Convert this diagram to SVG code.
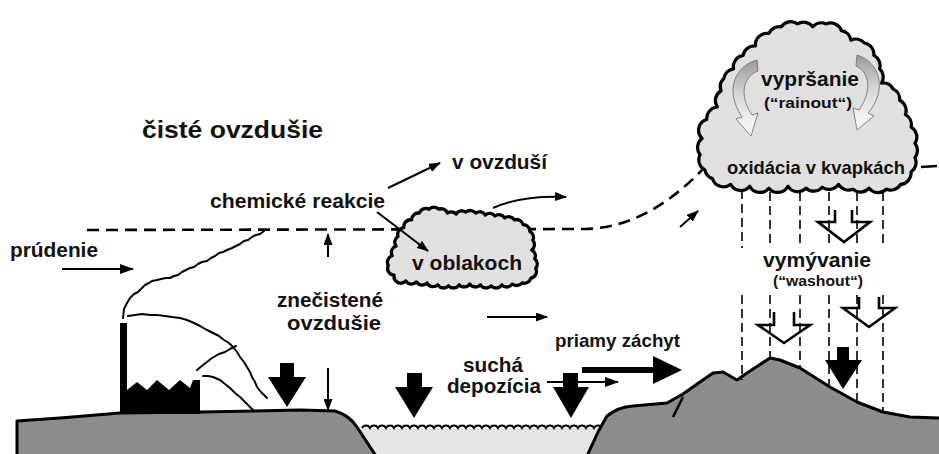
<svg xmlns="http://www.w3.org/2000/svg" width="939" height="454" viewBox="0 0 939 454">
  <style>
    .lbl { font-family: "Liberation Sans", Arial, sans-serif; font-weight: bold; fill: #111; }
    .ground { fill: #8c8c8c; stroke: #000; stroke-width: 3; stroke-linejoin: round; }
    .cloud { fill: #e0e0e0; stroke: #000; stroke-width: 3.4; stroke-linejoin: round; }
    .thin { fill: none; stroke: #000; stroke-width: 2; }
    .smoke { fill: none; stroke: #000; stroke-width: 2; stroke-linejoin: round; stroke-linecap: round; }
    .rain { fill: none; stroke: #000; stroke-width: 1.6; stroke-dasharray: 9 5; }
    .solid { fill: #000; }
    .hollow { fill: none; stroke: #000; stroke-width: 2.6; stroke-linejoin: miter; }
    .swirl { fill: url(#swirlGrad); stroke: #777; stroke-width: 0.9; }
  </style>
  <defs>
    <marker id="ah" viewBox="0 0 14 10" refX="13" refY="5" markerWidth="14" markerHeight="10" markerUnits="userSpaceOnUse" orient="auto">
      <path d="M0,0 L14,5 L0,10 z" fill="#000"/>
    </marker>
    <marker id="ahs" viewBox="0 0 12 9" refX="11" refY="4.5" markerWidth="12" markerHeight="9" markerUnits="userSpaceOnUse" orient="auto">
      <path d="M0,0 L12,4.5 L0,9 z" fill="#000"/>
    </marker>
    <linearGradient id="swirlGrad" x1="0" y1="0" x2="0" y2="1">
      <stop offset="0" stop-color="#9a9a9a"/>
      <stop offset="0.45" stop-color="#d6d6d6"/>
      <stop offset="1" stop-color="#ffffff"/>
    </linearGradient>
  </defs>

  <rect width="939" height="454" fill="#fff"/>

  <!-- water surface between the two shores -->
  <g id="water">
    <rect x="355" y="428" width="255" height="26" fill="#e6e6e6"/>
    <path d="M362,428 a4.5,4.5 0 0 1 8,0 a4.5,4.5 0 0 1 8,0 a4.5,4.5 0 0 1 8,0 a4.5,4.5 0 0 1 8,0 a4.5,4.5 0 0 1 8,0 a4.5,4.5 0 0 1 8,0 a4.5,4.5 0 0 1 8,0 a4.5,4.5 0 0 1 8,0 a4.5,4.5 0 0 1 8,0 a4.5,4.5 0 0 1 8,0 a4.5,4.5 0 0 1 8,0 a4.5,4.5 0 0 1 8,0 a4.5,4.5 0 0 1 8,0 a4.5,4.5 0 0 1 8,0 a4.5,4.5 0 0 1 8,0 a4.5,4.5 0 0 1 8,0 a4.5,4.5 0 0 1 8,0 a4.5,4.5 0 0 1 8,0 a4.5,4.5 0 0 1 8,0 a4.5,4.5 0 0 1 8,0 a4.5,4.5 0 0 1 8,0 a4.5,4.5 0 0 1 8,0 a4.5,4.5 0 0 1 8,0 a4.5,4.5 0 0 1 8,0 a4.5,4.5 0 0 1 8,0 a4.5,4.5 0 0 1 8,0 a4.5,4.5 0 0 1 8,0 a4.5,4.5 0 0 1 8,0 a4.5,4.5 0 0 1 8,0 a4.5,4.5 0 0 1 8,0" fill="none" stroke="#000" stroke-width="2"/>
  </g>

  <!-- left shore with the factory -->
  <g id="ground-left">
    <path class="ground" d="M17,421 L60,418 L120,413 L200,412 L300,410 L335,411 Q349,415 357,427 L376,456 L17,456 Z"/>
  </g>

  <!-- right shore and hill -->
  <g id="ground-right">
    <path class="ground" d="M587,456 L598,432 L607,416 Q618,407 633,406 L667,403 L683,394 L700,382 L713,373 L723,372 L737,380 L747,373 L770,358 L780,360 L800,368 L830,387 L857,402 L883,412 L910,417 L941,418 L941,456 Z"/>
    <path d="M673,417 L683,397" fill="none" stroke="#000" stroke-width="2.5"/>
  </g>

  <!-- factory: chimney, sawtooth hall and smoke plumes -->
  <g id="factory">
    <rect x="120" y="323" width="7" height="91" fill="#000"/>
    <path d="M127,414 L127,390 L137,382 L147,390 L157,380 L169,390 L180,380 L190,388 L193,380 L200,380 L200,414 Z" fill="#000"/>
    <path class="smoke" d="M123,318 L124,309 L127,303 L130,298 L134,294 L138,292 L141,289 L145,285 L149,283 L152,281 L157,280 L161,279 L166,278 L170,278 L174,276 L178,275 L182,272 L186,270 L190,268 L194,267 L198,264 L202,262 L207,261 L211,258 L215,256 L219,253 L223,252 L227,250 L232,248 L236,246 L240,244 L244,241 L248,240 L252,237 L256,235 L260,234 L264,231"/>
    <path class="smoke" d="M128,316 L135,315 L142,314 L150,315 L157,315 L165,316 L172,317 L180,318 L187,320 L194,323 L200,326 L207,330 L213,333 L219,336 L224,340 L229,343 L233,347 L237,352 L240,357 L244,362 L247,367 L250,372 L252,377 L255,382 L257,387 L261,392 L267,398"/>
    <path class="smoke" d="M236,346 L230,349 L225,352 L219,354 L212,358 L207,362 L203,365 L197,370"/>
    <path class="smoke" d="M203,376 L208,376 L213,377 L220,380 L225,384 L230,388 L235,393 L240,397 L244,401 L248,405 L253,410"/>
  </g>

  <!-- boundary between clean and polluted air -->
  <g id="mixing-layer">
    <path d="M87,230 L585,229 C630,228 668,205 702,170" fill="none" stroke="#000" stroke-width="2.6" stroke-dasharray="12 7"/>
    <path d="M921,167 L937,166" fill="none" stroke="#000" stroke-width="2.4"/>
  </g>

  <!-- rain streaks below the large cloud -->
  <g id="rain">
    <path class="rain" d="M742,190 V248 M770,192 V248 M800,192 V248 M829,192 V248 M857,192 V248 M883,192 V248"/>
    <path class="rain" d="M742,295 V380 M770,295 V358 M800,295 V368 M829,295 V387 M857,295 V402 M883,295 V412"/>
  </g>

  <!-- small cloud -->
  <g id="cloud-small">
    <path class="cloud" transform="translate(462 248) scale(0.97) translate(-462 -248)" d="M392,276 A7,7 0 0 1 386,266 A7,7 0 0 1 390,256 A7,7 0 0 1 394,246 A7,7 0 0 1 396,236 A7,7 0 0 1 402,227 A7,7 0 0 1 410,219 A7,7 0 0 1 418,212 A7,7 0 0 1 428,208 A7,7 0 0 1 438,208 A7,7 0 0 1 447,212 A7,7 0 0 1 456,213 A7,7 0 0 1 466,211 A7,7 0 0 1 476,212 A7,7 0 0 1 486,214 A7,7 0 0 1 496,215 A7,7 0 0 1 506,217 A7,7 0 0 1 516,219 A7,7 0 0 1 525,224 A7,7 0 0 1 532,231 A7,7 0 0 1 535,240 A7,7 0 0 1 534,250 A7,7 0 0 1 537,259 A7,7 0 0 1 538,269 A7,7 0 0 1 533,279 A7,7 0 0 1 524,284 A7,7 0 0 1 514,285 A7,7 0 0 1 503,286 A7,7 0 0 1 492,287 A7,7 0 0 1 481,286 A7,7 0 0 1 470,285 A7,7 0 0 1 459,286 A7,7 0 0 1 448,287 A7,7 0 0 1 437,286 A7,7 0 0 1 426,284 A7,7 0 0 1 415,283 A7,7 0 0 1 404,282 A7,7 0 0 1 392,276 Z"/>
    <text class="lbl" x="412" y="270" font-size="21" textLength="110" lengthAdjust="spacingAndGlyphs">v oblakoch</text>
  </g>

  <!-- large rain cloud -->
  <g id="cloud-large">
    <path class="cloud" transform="translate(808 107) scale(0.955) translate(-808 -107)" d="M700,173 A12,12 0 0 1 695,157 A12,12 0 0 1 697,140 A12,12 0 0 1 702,120 A12,12 0 0 1 713,107 A12,12 0 0 1 717,90 A12,12 0 0 1 720,77 A12,12 0 0 1 730,67 A12,12 0 0 1 740,53 A12,12 0 0 1 753,43 A12,12 0 0 1 767,30 A12,12 0 0 1 780,23 A12,12 0 0 1 797,20 A12,12 0 0 1 813,23 A12,12 0 0 1 827,20 A12,12 0 0 1 843,27 A12,12 0 0 1 853,37 A12,12 0 0 1 867,40 A12,12 0 0 1 877,53 A12,12 0 0 1 883,67 A12,12 0 0 1 885,82 A12,12 0 0 1 897,88 A12,12 0 0 1 904,100 A12,12 0 0 1 910,115 A12,12 0 0 1 916,128 A12,12 0 0 1 920,145 A12,12 0 0 1 920,160 A12,12 0 0 1 916,175 A12,12 0 0 1 905,188 A12,12 0 0 1 890,193 A12,12 0 0 1 872,192 A12,12 0 0 1 855,193 A12,12 0 0 1 840,188 A12,12 0 0 1 823,191 A12,12 0 0 1 806,192 A12,12 0 0 1 787,190 A12,12 0 0 1 767,192 A12,12 0 0 1 747,190 A12,12 0 0 1 727,188 A12,12 0 0 1 708,182 A12,12 0 0 1 700,173 Z"/>
    <path class="swirl" d="M757,60 C735,66 724,90 742,117 L736,119 L751,136 L758,113 L752,115 C738,94 744,76 758,71 Z"/>
    <path class="swirl" d="M857,55 C880,62 888,90 868,113 L874,116 L857,130 L853,108 L859,110 C873,90 869,72 856,66 Z"/>
    <text class="lbl" x="761" y="86" font-size="21" textLength="98" lengthAdjust="spacingAndGlyphs">vypršanie</text>
    <text class="lbl" x="764" y="108" font-size="14" textLength="88" lengthAdjust="spacingAndGlyphs">(“rainout“)</text>
    <text class="lbl" x="727" y="174" font-size="19" textLength="178" lengthAdjust="spacingAndGlyphs">oxidácia v kvapkách</text>
  </g>

  <!-- free-standing labels -->
  <g id="labels">
    <text class="lbl" x="142" y="138" font-size="24" textLength="181" lengthAdjust="spacingAndGlyphs">čisté ovzdušie</text>
    <text class="lbl" x="210" y="208" font-size="20" textLength="175" lengthAdjust="spacingAndGlyphs">chemické reakcie</text>
    <text class="lbl" x="10" y="257" font-size="20" textLength="88" lengthAdjust="spacingAndGlyphs">prúdenie</text>
    <text class="lbl" x="452" y="169" font-size="20" textLength="95" lengthAdjust="spacingAndGlyphs">v ovzduší</text>
    <text class="lbl" x="277" y="307" font-size="20" textLength="106" lengthAdjust="spacingAndGlyphs">znečistené</text>
    <text class="lbl" x="287" y="330" font-size="20" textLength="94" lengthAdjust="spacingAndGlyphs">ovzdušie</text>
    <text class="lbl" x="555" y="347" font-size="19" textLength="125" lengthAdjust="spacingAndGlyphs">priamy záchyt</text>
    <text class="lbl" x="463" y="372" font-size="21" textLength="60" lengthAdjust="spacingAndGlyphs">suchá</text>
    <text class="lbl" x="447" y="393" font-size="21" textLength="94" lengthAdjust="spacingAndGlyphs">depozícia</text>
    <text class="lbl" x="763" y="267" font-size="21" textLength="108" lengthAdjust="spacingAndGlyphs">vymývanie</text>
    <text class="lbl" x="773" y="286" font-size="14" textLength="90" lengthAdjust="spacingAndGlyphs">(“washout“)</text>
  </g>

  <!-- arrows -->
  <g id="connectors">
    <line class="thin" x1="62" y1="269" x2="133" y2="269" marker-end="url(#ah)"/>
    <line class="thin" x1="388" y1="188" x2="440" y2="163" marker-end="url(#ahs)"/>
    <line class="thin" x1="377" y1="212" x2="428" y2="251" marker-end="url(#ahs)"/>
    <line class="thin" x1="328" y1="257" x2="328" y2="234" marker-end="url(#ahs)"/>
    <path class="thin" d="M493,208 Q522,195 566,197" marker-end="url(#ahs)"/>
    <line class="thin" x1="680" y1="227" x2="698" y2="211" marker-end="url(#ahs)"/>
    <line class="thin" x1="487" y1="317" x2="547" y2="317" marker-end="url(#ahs)"/>
    <line class="thin" x1="547" y1="382" x2="618" y2="382" marker-end="url(#ah)"/>
    <line class="thin" x1="328" y1="368" x2="328" y2="410" marker-end="url(#ahs)"/>

    <!-- dry deposition -->
    <polygon class="solid" points="280,363 294,363 294,377 306,377 287,407 268,377 280,377"/>
    <polygon class="solid" points="407,373 422,373 422,387 433,387 414,418 395,387 407,387"/>
    <polygon class="solid" points="563,373 578,373 578,387 589,387 571,418 553,387 563,387"/>
    <polygon class="solid" points="837,347 849,347 849,360 862,360 843,389 825,360 837,360"/>

    <!-- direct interception -->
    <polygon class="solid" points="582,367 653,367 653,356 682,370 653,384 653,373 582,373"/>

    <!-- washout -->
    <path class="hollow" d="M835,210 V222 H818 L844,242 L870,222 H852 V210"/>
    <path class="hollow" d="M774,312 V325 H758 L784,343 L810,325 H794 V312"/>
    <path class="hollow" d="M859,297 V308 H843 L869,327 L895,308 H879 V297"/>
  </g>
</svg>
